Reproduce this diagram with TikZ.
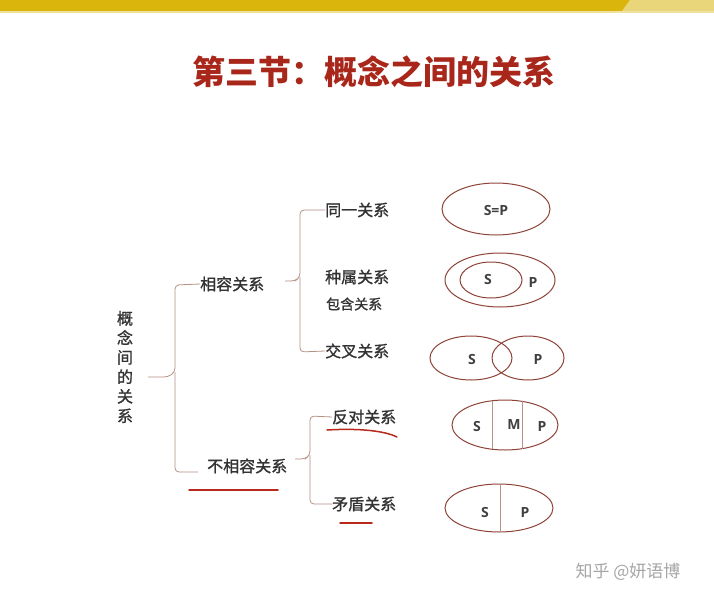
\documentclass[tikz,border=0pt]{standalone}
\usepackage{fontspec}
\newfontfamily\cjk{Noto Sans CJK SC}
\newfontfamily\cjkm[FakeBold=1.2]{Noto Sans CJK SC}
\setsansfont{Open Sans}
\usetikzlibrary{calc}
\definecolor{titlered}{HTML}{A8261A}
\definecolor{ellred}{HTML}{8E4338}
\definecolor{brk}{HTML}{B59084}
\definecolor{ulred}{HTML}{B8281C}
\definecolor{bar}{HTML}{DAB60C}
\definecolor{barlight}{HTML}{E9D67A}
\tikzset{
  lbl/.style={font=\cjkm\fontsize{16}{16}\selectfont, text=black!80, inner sep=0pt},
  sml/.style={font=\cjkm\fontsize{14}{14}\selectfont, text=black!80, inner sep=0pt},
  ell/.style={draw=ellred, line width=1pt},
  ltr/.style={font=\sffamily\bfseries\fontsize{14}{14}\selectfont, text=black!75, inner sep=0pt},
  brace/.style={draw=brk, line width=0.8pt, rounded corners=4pt},
  ul/.style={draw=ulred, line width=1.5pt, line cap=round},
}
\begin{document}
\begin{tikzpicture}[x=1pt,y=-1pt]
\useasboundingbox (0,0) rectangle (714,602);
\fill[white] (0,0) rectangle (714,602);
% top bar
\fill[bar] (0,0) rectangle (714,11);
\fill[barlight] (630,0) -- (714,0) -- (714,11) -- (622,11) -- cycle;
\fill[bar!40] (0,11) rectangle (714,13);
% title
\node[font=\cjk\bfseries\fontsize{33}{33}\selectfont, text=titlered, inner sep=0pt] (title) at (374,72) {第三节：概念之间的关系};
% root
\node[lbl, align=center, font=\cjkm\fontsize{16}{19.5}\selectfont] (root) at (125,367) {概\\念\\间\\的\\关\\系};
% level 1
\node[lbl, anchor=west] (xr) at (200,284) {相容关系};
\node[lbl, anchor=west] (bxr) at (207,466) {不相容关系};
% level 2
\node[lbl, anchor=west] (ty) at (325,210) {同一关系};
\node[lbl, anchor=west] (zs) at (325,277) {种属关系};
\node[sml, anchor=west] (bh) at (326,304) {包含关系};
\node[lbl, anchor=west] (jc) at (325,351) {交叉关系};
\node[lbl, anchor=west] (fd) at (332,417) {反对关系};
\node[lbl, anchor=west] (md) at (332,504) {矛盾关系};
% braces
\coordinate (r0) at (148,377);
\draw[brace] (r0) -- (168,377) -- (175,372) -- (175,285) -- (xr.west);
\draw[brace] (175,372) -- (175,382) -- (175,472) -- (198,472);
\coordinate (a0) at (285,281);
\draw[brace] (a0) -- (295,281) -- (300,277) -- (300,210) -- (ty.west);
\draw[brace] (300,277) -- (300,352) -- (jc.west);
\coordinate (b0) at (295,459);
\draw[brace] (b0) -- (305,459) -- (310,455) -- (310,416) -- (fd.west);
\draw[brace] (310,455) -- (310,504) -- (md.west);
% red underlines
\draw[ul] (189,490) -- (278,490);
\draw[ul] (327,430) .. controls (360,428) and (385,431) .. (397,437);
\draw[ul] (340,523) -- (372,523);
% ellipses: identity
\draw[ell] (496,209) ellipse [x radius=54, y radius=26];
\node[ltr] (e1) at (496,210) {S=P};
% inclusion
\draw[ell] (500,280) ellipse [x radius=55, y radius=27];
\draw[ell] (491,280) ellipse [x radius=31, y radius=18];
\node[ltr] (e2s) at (488,279) {S};
\node[ltr] (e2p) at (533,282) {P};
% crossing
\draw[ell] (471,358) ellipse [x radius=41, y radius=22];
\draw[ell] (528,358) ellipse [x radius=36, y radius=22];
\node[ltr] (e3s) at (472,359) {S};
\node[ltr] (e3p) at (538,359) {P};
% contrary
\draw[ell] (505,425) ellipse [x radius=53, y radius=25];
\draw[draw=ellred!60, line width=0.7pt] (492,401) -- (492,449);
\draw[draw=ellred!60, line width=0.7pt] (522,401) -- (522,449);
\node[ltr] (e4s) at (477,426) {S};
\node[ltr] (e4m) at (514,424) {M};
\node[ltr] (e4p) at (542,426) {P};
% contradictory
\draw[ell] (499,508) ellipse [x radius=54, y radius=24];
\draw[draw=ellred!60, line width=0.7pt] (500,484) -- (500,532);
\node[ltr] (e5s) at (485,512) {S};
\node[ltr] (e5p) at (525,512) {P};
% watermark
\node[font=\cjk\fontsize{17}{17}\selectfont, text=black!35, inner sep=0pt] (wm) at (628,572) {知乎 @妍语博};
\end{tikzpicture}
\end{document}
